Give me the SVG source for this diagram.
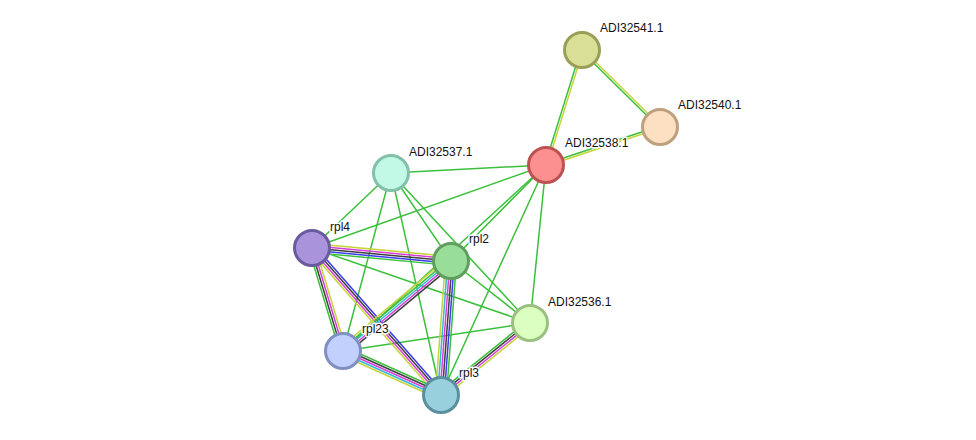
<svg xmlns="http://www.w3.org/2000/svg" width="976" height="440" viewBox="0 0 976 440">
<style>
.e line{stroke-width:1.5;fill:none}
.g{stroke:#3bc03b}
.y{stroke:#c5d43a}
.m{stroke:#d83ed8}
.k{stroke:#3f3f3f}
.b{stroke:#3a3aee}
.c{stroke:#33b6dc}
.n circle{stroke-width:3}
.n text{font-family:"Liberation Sans",Arial,sans-serif;font-size:12px;fill:#111;stroke:#fff;stroke-width:3;stroke-linejoin:round;paint-order:stroke}
</style>
<rect width="976" height="440" fill="#fff"/>
<g id="connectors" class="e">
<line class="g" x1="546" y1="165" x2="391" y2="173"/>
<line class="g" x1="546" y1="165" x2="312" y2="248"/>
<line class="g" x1="546" y1="165" x2="451" y2="261"/>
<line class="g" x1="546" y1="165" x2="343" y2="351"/>
<line class="g" x1="546" y1="165" x2="441" y2="395"/>
<line class="g" x1="546" y1="165" x2="530" y2="323"/>
<line class="g" x1="391" y1="173" x2="312" y2="248"/>
<line class="g" x1="391" y1="173" x2="343" y2="351"/>
<line class="g" x1="391" y1="173" x2="441" y2="395"/>
<line class="g" x1="391" y1="173" x2="451" y2="261"/>
<line class="g" x1="391" y1="173" x2="530" y2="323"/>
<line class="g" x1="312" y1="248" x2="530" y2="323"/>
<line class="g" x1="451" y1="261" x2="530" y2="323"/>
<line class="g" x1="343" y1="351" x2="530" y2="323"/>
<g transform="translate(582,50) rotate(107.38)">
<line class="g" x1="0" y1="1.1" x2="120.5" y2="1.1"/>
<line class="y" x1="0" y1="-1.1" x2="120.5" y2="-1.1"/>
</g>
<g transform="translate(582,50) rotate(44.63)">
<line class="g" x1="0" y1="1.1" x2="109.6" y2="1.1"/>
<line class="y" x1="0" y1="-1.1" x2="109.6" y2="-1.1"/>
</g>
<g transform="translate(660,127) rotate(161.57)">
<line class="g" x1="0" y1="1.1" x2="120.2" y2="1.1"/>
<line class="y" x1="0" y1="-1.1" x2="120.2" y2="-1.1"/>
</g>
<g transform="translate(312,248) rotate(5.34)">
<line class="y" x1="0" y1="-4.4" x2="139.6" y2="-4.4"/>
<line class="m" x1="0" y1="-2.2" x2="139.6" y2="-2.2"/>
<line class="k" x1="0" y1="0" x2="139.6" y2="0"/>
<line class="b" x1="0" y1="2.2" x2="139.6" y2="2.2"/>
<line class="g" x1="0" y1="4.4" x2="139.6" y2="4.4"/>
</g>
<g transform="translate(312,248) rotate(73.25)">
<line class="g" x1="0" y1="3.3" x2="107.6" y2="3.3"/>
<line class="k" x1="0" y1="1.1" x2="107.6" y2="1.1"/>
<line class="m" x1="0" y1="-1.1" x2="107.6" y2="-1.1"/>
<line class="y" x1="0" y1="-3.3" x2="107.6" y2="-3.3"/>
</g>
<g transform="translate(312,248) rotate(48.73)">
<line class="y" x1="0" y1="3.3" x2="195.6" y2="3.3"/>
<line class="m" x1="0" y1="1.1" x2="195.6" y2="1.1"/>
<line class="k" x1="0" y1="-1.1" x2="195.6" y2="-1.1"/>
<line class="b" x1="0" y1="-3.3" x2="195.6" y2="-3.3"/>
</g>
<g transform="translate(451,261) rotate(140.19)">
<line class="y" x1="0" y1="4.4" x2="140.6" y2="4.4"/>
<line class="g" x1="0" y1="2.2" x2="140.6" y2="2.2"/>
<line class="c" x1="0" y1="0" x2="140.6" y2="0"/>
<line class="m" x1="0" y1="-2.2" x2="140.6" y2="-2.2"/>
<line class="k" x1="0" y1="-4.4" x2="140.6" y2="-4.4"/>
</g>
<g transform="translate(451,261) rotate(94.27)">
<line class="y" x1="0" y1="5.5" x2="134.4" y2="5.5"/>
<line class="c" x1="0" y1="3.3" x2="134.4" y2="3.3"/>
<line class="m" x1="0" y1="1.1" x2="134.4" y2="1.1"/>
<line class="k" x1="0" y1="-1.1" x2="134.4" y2="-1.1"/>
<line class="b" x1="0" y1="-3.3" x2="134.4" y2="-3.3"/>
<line class="g" x1="0" y1="-5.5" x2="134.4" y2="-5.5"/>
</g>
<g transform="translate(343,351) rotate(24.18)">
<line class="g" x1="0" y1="-4.4" x2="107.4" y2="-4.4"/>
<line class="k" x1="0" y1="-2.2" x2="107.4" y2="-2.2"/>
<line class="m" x1="0" y1="0" x2="107.4" y2="0"/>
<line class="c" x1="0" y1="2.2" x2="107.4" y2="2.2"/>
<line class="y" x1="0" y1="4.4" x2="107.4" y2="4.4"/>
</g>
<g transform="translate(441,395) rotate(-38.97)">
<line class="g" x1="0" y1="-3.3" x2="114.5" y2="-3.3"/>
<line class="k" x1="0" y1="-1.1" x2="114.5" y2="-1.1"/>
<line class="m" x1="0" y1="1.1" x2="114.5" y2="1.1"/>
<line class="y" x1="0" y1="3.3" x2="114.5" y2="3.3"/>
</g>
</g>
<g id="node-ADI32541" class="n"><circle cx="582" cy="50" r="17.5" fill="#d9df96" stroke="#9a9f58"/><text x="600" y="32">ADI32541.1</text></g>
<g id="node-ADI32540" class="n"><circle cx="660" cy="127" r="17.5" fill="#fde0c1" stroke="#bfa07e"/><text x="678" y="109">ADI32540.1</text></g>
<g id="node-ADI32538" class="n"><circle cx="546" cy="165" r="17.5" fill="#fc9090" stroke="#bd5252"/><text x="565" y="147">ADI32538.1</text></g>
<g id="node-ADI32537" class="n"><circle cx="391" cy="173" r="17.5" fill="#c2f8e6" stroke="#82c0aa"/><text x="409" y="156">ADI32537.1</text></g>
<g id="node-rpl4" class="n"><circle cx="312" cy="248" r="17.5" fill="#a994dc" stroke="#6a5a9e"/><text x="330" y="231">rpl4</text></g>
<g id="node-rpl2" class="n"><circle cx="451" cy="261" r="17.5" fill="#98de98" stroke="#5f9e5f"/><text x="469" y="243">rpl2</text></g>
<g id="node-ADI32536" class="n"><circle cx="530" cy="323" r="17.5" fill="#dbffc0" stroke="#9cbf82"/><text x="548" y="306">ADI32536.1</text></g>
<g id="node-rpl23" class="n"><circle cx="343" cy="351" r="17.5" fill="#c1d0fc" stroke="#8190c0"/><text x="362" y="333">rpl23</text></g>
<g id="node-rpl3" class="n"><circle cx="441" cy="395" r="17.5" fill="#98d0de" stroke="#5a909e"/><text x="459" y="377">rpl3</text></g>
</svg>
